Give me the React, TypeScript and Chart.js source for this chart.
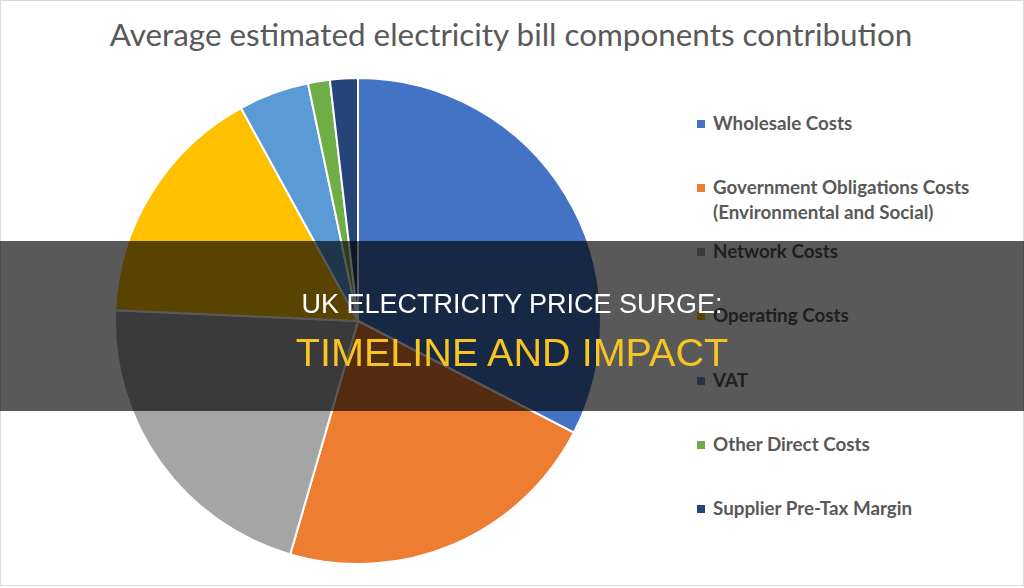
import React, { useEffect, useRef } from "react";
import { Chart, registerables } from "chart.js";

Chart.register(...registerables);

const titleText = "Average estimated electricity bill components contribution";
const categories = [
  "Wholesale Costs",
  "Government Obligations Costs (Environmental and Social)",
  "Network Costs",
  "Operating Costs",
  "VAT",
  "Other Direct Costs",
  "Supplier Pre-Tax Margin",
];
const legendLines = [
  ["Wholesale Costs"],
  ["Government Obligations Costs", "(Environmental and Social)"],
  ["Network Costs"],
  ["Operating Costs"],
  ["VAT"],
  ["Other Direct Costs"],
  ["Supplier Pre-Tax Margin"],
];
const shares = [32.6, 21.9, 21.2, 16.3, 4.7, 1.45, 1.85];
const sliceColors = ["#4472C4", "#ED7D31", "#A5A5A5", "#FFC000", "#5B9BD5", "#70AD47", "#264478"];
const bannerLine1 = "UK ELECTRICITY PRICE SURGE:";
const bannerLine2 = "TIMELINE AND IMPACT";

export default function App() {
  const canvasRef = useRef<HTMLCanvasElement | null>(null);

  useEffect(() => {
    if (!canvasRef.current) return;
    const chart = new Chart(canvasRef.current, {
      type: "pie",
      data: {
        labels: categories,
        datasets: [
          {
            data: shares,
            backgroundColor: sliceColors,
            borderColor: "#ffffff",
            borderWidth: 2,
          },
        ],
      },
      options: {
        responsive: false,
        animation: false,
        layout: { padding: 0 },
        plugins: {
          legend: { display: false },
          title: { display: false },
          tooltip: { enabled: false },
        },
      },
    });
    return () => chart.destroy();
  }, []);

  return (
    <div
      style={{
        position: "fixed",
        left: 0,
        top: 0,
        width: 1024,
        height: 588,
        background: "#ffffff",
        overflow: "hidden",
        fontFamily: "Lato, 'Open Sans', sans-serif",
      }}
    >
      <div
        style={{
          position: "absolute",
          left: 0,
          top: 0,
          width: 1022,
          height: 584,
          border: "1px solid #d9d9d9",
        }}
      />
      <div
        style={{
          position: "absolute",
          left: 0,
          top: 17,
          width: 1022,
          textAlign: "center",
          fontSize: 31.4,
          lineHeight: "35px",
          color: "#595959",
          whiteSpace: "nowrap",
        }}
      >
        {titleText}
      </div>
      <canvas
        ref={canvasRef}
        width={488}
        height={488}
        style={{ position: "absolute", left: 114, top: 77, width: 488, height: 488 }}
      />
      {legendLines.map((lines, i) => (
        <div key={i} style={{ position: "absolute", left: 697, top: 109.5 + i * 64.25 }}>
          <div
            style={{
              position: "absolute",
              left: 0,
              top: 10,
              width: 8,
              height: 8,
              background: sliceColors[i],
            }}
          />
          <div
            style={{
              position: "absolute",
              left: 16,
              top: 0,
              fontSize: 18.8,
              fontWeight: 700,
              lineHeight: "25px",
              color: "#595959",
              whiteSpace: "nowrap",
            }}
          >
            {lines.map((l, j) => (
              <div key={j}>{l}</div>
            ))}
          </div>
        </div>
      ))}
      <div
        style={{
          position: "absolute",
          left: 0,
          top: 241,
          width: 1024,
          height: 170,
          background: "rgba(0,0,0,0.65)",
        }}
      />
      <div
        style={{
          position: "absolute",
          left: 0,
          top: 290.6,
          width: 1024,
          textAlign: "center",
          fontFamily: "'Liberation Sans', Arial, sans-serif",
          fontSize: 27,
          lineHeight: "27px",
          color: "#ffffff",
          whiteSpace: "nowrap",
        }}
      >
        {bannerLine1}
      </div>
      <div
        style={{
          position: "absolute",
          left: 0,
          top: 332.5,
          width: 1024,
          textAlign: "center",
          fontFamily: "'Liberation Sans', Arial, sans-serif",
          fontSize: 39.6,
          lineHeight: "39.6px",
          color: "#F6C523",
          whiteSpace: "nowrap",
        }}
      >
        {bannerLine2}
      </div>
    </div>
  );
}
